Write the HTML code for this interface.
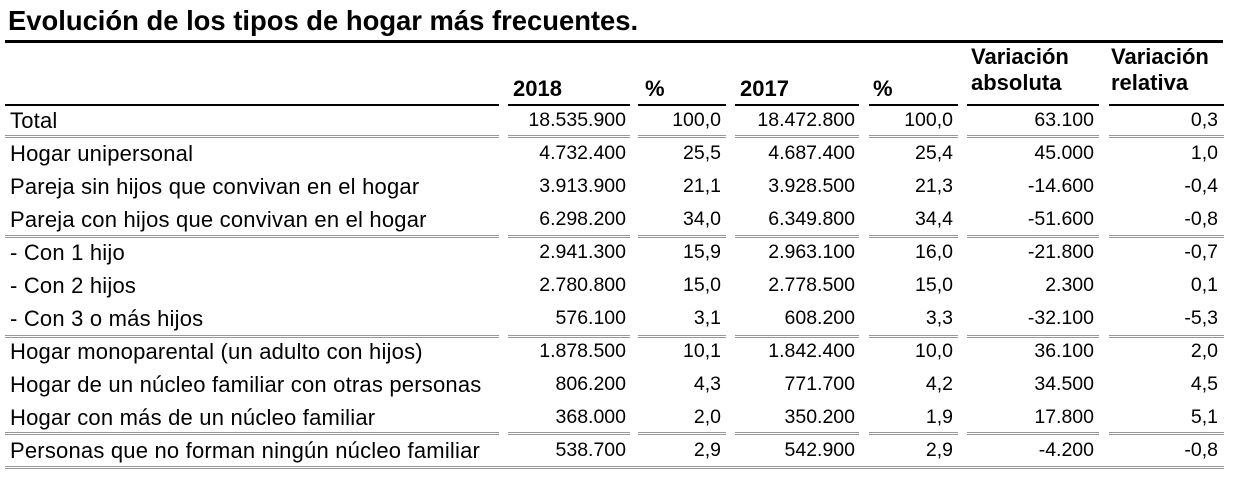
<!DOCTYPE html>
<html><head><meta charset="utf-8"><style>
body{margin:0;width:1236px;height:481px;background:#fff;position:relative;font-family:"Liberation Sans",Arial,sans-serif;color:#000;overflow:hidden}
.t{position:absolute;left:8px;top:5px;font-size:27.4px;font-weight:bold}
.l{position:absolute;height:0}
.h{position:absolute;font-weight:bold;font-size:22px;line-height:26px}
.r{position:absolute;left:0;width:1236px;height:33px;font-size:19.5px;line-height:33px}
.r span{position:absolute;white-space:nowrap}
.r .a{left:10px;font-size:22px;top:0px;letter-spacing:0.2px}
</style></head><body>
<div class="t">Evolución de los tipos de hogar más frecuentes.</div>
<div class="l" style="left:5px;width:1218px;top:40px;border-top:3px solid #000"></div>
<div class="h" style="left:513px;top:76px">2018</div>
<div class="h" style="left:645px;top:76px">%</div>
<div class="h" style="left:740px;top:76px">2017</div>
<div class="h" style="left:873px;top:76px">%</div>
<div class="h" style="left:971px;top:44px">Variación<br>absoluta</div>
<div class="h" style="left:1111px;top:44px">Variación<br>relativa</div>
<div id="lines"></div>
<div id="rows"></div>
<script>
var segs=[[5,499],[508,630],[638,726],[735,859],[869,958],[967,1099],[1109,1224]];
var L=document.getElementById('lines'),h='';
function line(y,style){segs.forEach(function(s){h+='<div class="l" style="left:'+s[0]+'px;width:'+(s[1]-s[0])+'px;top:'+y+'px;border-top:'+style+'"></div>';});}
line(104,'2px solid #000');
line(135,'3px double #999');
line(235,'3px double #999');
line(335,'3px double #999');
line(432,'3px double #999');
h+='<div class="l" style="left:5px;width:1219px;top:466px;border-top:3px double #999"></div>';
L.innerHTML=h;
var d=[["Total","18.535.900","100,0","18.472.800","100,0","63.100","0,3"],
["Hogar unipersonal","4.732.400","25,5","4.687.400","25,4","45.000","1,0"],
["Pareja sin hijos que convivan en el hogar","3.913.900","21,1","3.928.500","21,3","-14.600","-0,4"],
["Pareja con hijos que convivan en el hogar","6.298.200","34,0","6.349.800","34,4","-51.600","-0,8"],
["- Con 1 hijo","2.941.300","15,9","2.963.100","16,0","-21.800","-0,7"],
["- Con 2 hijos","2.780.800","15,0","2.778.500","15,0","2.300","0,1"],
["- Con 3 o más hijos","576.100","3,1","608.200","3,3","-32.100","-5,3"],
["Hogar monoparental (un adulto con hijos)","1.878.500","10,1","1.842.400","10,0","36.100","2,0"],
["Hogar de un núcleo familiar con otras personas","806.200","4,3","771.700","4,2","34.500","4,5"],
["Hogar con más de un núcleo familiar","368.000","2,0","350.200","1,9","17.800","5,1"],
["Personas que no forman ningún núcleo familiar","538.700","2,9","542.900","2,9","-4.200","-0,8"]];
var R=[626,721,855,953,1094,1218],o='';
d.forEach(function(r,i){o+='<div class="r" style="top:'+(104+i*33)+'px"><span class="a">'+r[0]+'</span>';
for(var j=1;j<7;j++)o+='<span style="right:'+(1236-R[j-1])+'px">'+r[j]+'</span>';o+='</div>';});
document.getElementById('rows').innerHTML=o;
</script>
</body></html>
